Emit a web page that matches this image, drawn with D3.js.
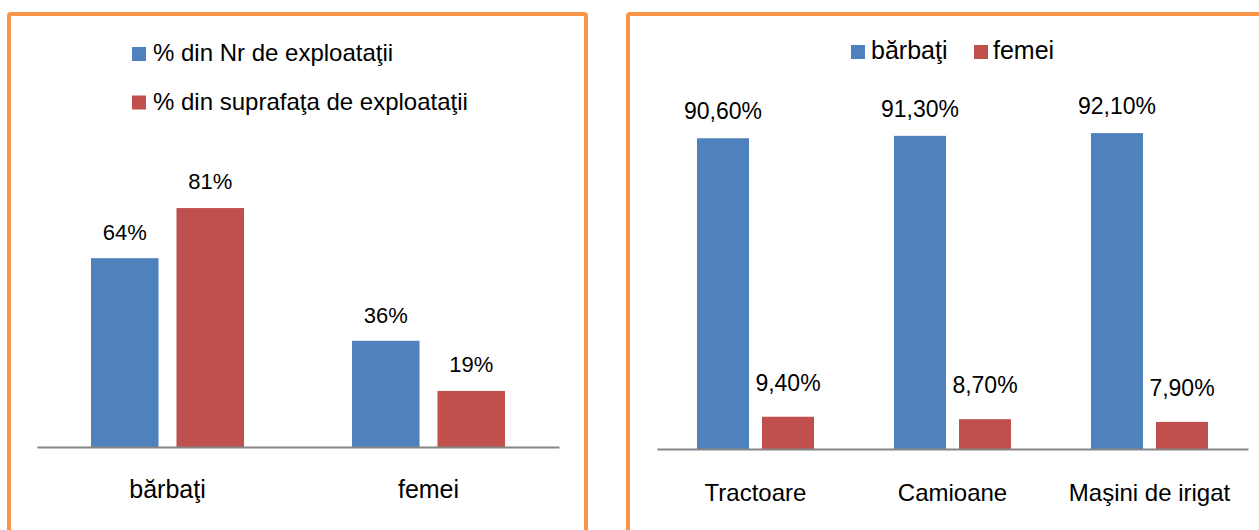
<!DOCTYPE html>
<html><head><meta charset="utf-8">
<script src="https://cdn.jsdelivr.net/npm/d3@7"></script>
<style>body{margin:0;background:#fff}svg{display:block}text{font-family:"Liberation Sans",Arial,sans-serif;fill:#000}</style>
</head><body>
<svg id="c" width="1259" height="530"></svg>
<script>
// Left chart
const leftCategories = ["bărbaţi", "femei"];
const leftSeries = ["% din Nr de exploataţii", "% din suprafaţa de exploataţii"];
const leftNr = [64, 36];
const leftSuprafata = [81, 19];
const leftLabels = ["64%", "36%"];
const leftLabels2 = ["81%", "19%"];
// Right chart
const rightCategories = ["Tractoare", "Camioane", "Maşini de irigat"];
const rightSeries = ["bărbaţi", "femei"];
const rightBarbati = [90.6, 91.3, 92.1];
const rightFemei = [9.4, 8.7, 7.9];
const rightLabelsB = ["90,60%", "91,30%", "92,10%"];
const rightLabelsF = ["9,40%", "8,70%", "7,90%"];

const colors = ["#4F81BD", "#C0504D"];
const svg = d3.select("#c");

// panel borders
svg.append("rect").attr("x", 9).attr("y", 14).attr("width", 577).attr("height", 540)
  .attr("fill", "none").attr("stroke", "#F79646").attr("stroke-width", 4).attr("rx", 2);
svg.append("rect").attr("x", 628).attr("y", 14).attr("width", 700).attr("height", 540)
  .attr("fill", "none").attr("stroke", "#F79646").attr("stroke-width", 4).attr("rx", 2);

function drawChart(g, cats, series, vals, labels, opt) {
  const x0 = d3.scaleBand().domain(cats).range([opt.x0, opt.x1]);
  const x1 = d3.scaleBand().domain(series).range([opt.innerPad, x0.bandwidth() - opt.innerPad]).paddingInner(opt.gap);
  const y = d3.scaleLinear().domain([0, 100]).range([opt.base, opt.top]);
  series.forEach((s, si) => {
    g.selectAll(null).data(cats).enter().append("rect")
      .attr("x", c => x0(c) + x1(s))
      .attr("width", x1.bandwidth())
      .attr("y", (c, i) => y(vals[si][i]))
      .attr("height", (c, i) => y(0) - y(vals[si][i]))
      .attr("fill", colors[si]);
    g.selectAll(null).data(cats).enter().append("text")
      .attr("x", c => x0(c) + x1(s) + x1.bandwidth() / 2)
      .attr("y", (c, i) => y(vals[si][i]) - opt.labelOff[si])
      .attr("text-anchor", "middle").attr("font-size", opt.labelSize)
      .text((c, i) => labels[si][i]);
  });
  const ax = g.append("g").attr("transform", `translate(0,${opt.base})`)
    .call(d3.axisBottom(x0).tickSize(0));
  ax.select(".domain").attr("stroke", "#868686").attr("stroke-width", 2);
  ax.selectAll(".tick text").attr("fill", "#000").attr("dy", 0).attr("y", opt.catY)
    .style("font-family", '"Liberation Sans",Arial,sans-serif')
    .attr("font-size", opt.catSize);
}

const gl = svg.append("g");
drawChart(gl, leftCategories, leftSeries, [leftNr, leftSuprafata], [leftLabels, leftLabels2],
  {x0: 37, x1: 559, base: 447, top: 152, innerPad: 54, gap: 0.21, labelOff: [18, 19], labelSize: 22, catY: 51, catSize: 25});
const gr = svg.append("g");
drawChart(gr, rightCategories, rightSeries, [rightBarbati, rightFemei], [rightLabelsB, rightLabelsF],
  {x0: 657, x1: 1248, base: 449, top: 106, innerPad: 40, gap: 0.2, labelOff: [19, 26], labelSize: 23, catY: 52, catSize: 24});

// left legend
leftSeries.forEach((s, i) => {
  const top = 47 + i * 48.5;
  svg.append("rect").attr("x", 132).attr("y", top).attr("width", 14).attr("height", 14).attr("fill", colors[i]);
  svg.append("text").attr("x", 153).attr("y", top + 14).attr("font-size", 24).text(s);
});
// right legend
const rl = [{x: 851, tx: 871}, {x: 974, tx: 993}];
rightSeries.forEach((s, i) => {
  svg.append("rect").attr("x", rl[i].x).attr("y", 45).attr("width", 14).attr("height", 14).attr("fill", colors[i]);
  svg.append("text").attr("x", rl[i].tx).attr("y", 59).attr("font-size", 25).text(s);
});
</script>
</body></html>
